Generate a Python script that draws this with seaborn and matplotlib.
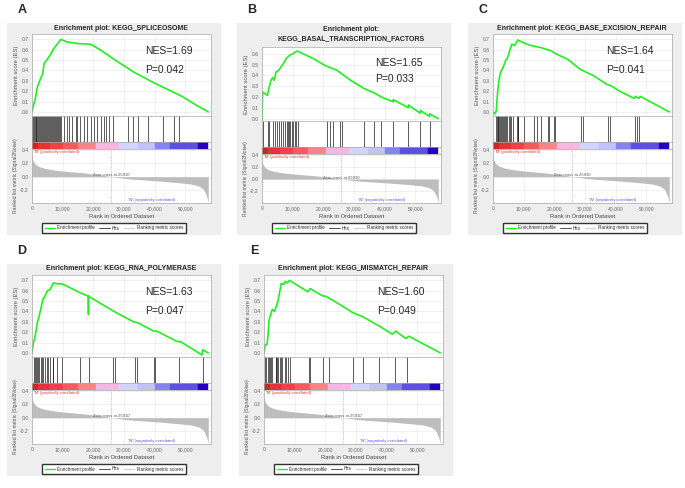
import seaborn as sns
import pandas as pd
from matplotlib import pyplot as plt
from matplotlib.lines import Line2D

sns.set_style("white")
plt.rcParams["font.family"] = ["Liberation Sans", "DejaVu Sans"]

W, H = 685, 488
N_GENES = 57500
ZERO_CROSS = 25910
X_TICKS = [0, 10000, 20000, 30000, 40000, 50000]
X_TICK_LABELS = ["0", "10,000", "20,000", "30,000", "40,000", "50,000"]

# ranked list metric, same ordered dataset in every panel
metric_rank = [0, 300, 1000, 2000, 4000, 7000, 11000, 16000, 21000, 25910,
               31000, 37000, 43000, 48000, 52000, 54500, 56000, 56900, 57500]
metric_value = [0.32, 0.24, 0.19, 0.155, 0.125, 0.10, 0.08, 0.06, 0.035, 0.0,
                -0.03, -0.05, -0.07, -0.09, -0.11, -0.14, -0.19, -0.28, -0.38]

# colour strip between hits and metric
strip_edges = [0, 2000, 6000, 10000, 15000, 20800, 28400, 34600, 40000, 45000,
               54300, 57500]
strip_colors = ["#c82828", "#e03438", "#f04048", "#f45a62", "#f8848a", "#f6b8e2",
                "#d4d4f8", "#c2c2f6", "#8484f0", "#5c50e2", "#2400c2"]

# A
a_title = "Enrichment plot: KEGG_SPLICEOSOME"
a_nes, a_p = "1.69", "0.042"
a_es_rank = [0, 440, 1100, 1760, 2640, 3520, 3960, 4850, 5950, 7050, 8370, 9470,
             11450, 14760, 19160, 22470, 27970, 33480, 38990, 44490, 48900, 53300, 57500]
a_es = [0.0, 0.054, 0.134, 0.24, 0.31, 0.37, 0.47, 0.50, 0.55, 0.61, 0.66, 0.70,
        0.675, 0.66, 0.653, 0.595, 0.484, 0.379, 0.293, 0.213, 0.15, 0.07, 0.0]
a_hits = [100, 350, 600, 900, 1150, 1400, 1700, 2000, 2300, 2600, 2900, 3300, 3600,
          3900, 4200, 4600, 5000, 5300, 5600, 5900, 6300, 6600, 7000, 7300, 7600,
          7900, 8200, 8500, 8800, 9100, 9500, 10300, 11450, 12000, 13100, 14200,
          14750, 15800, 16900, 18000, 19150, 20250, 21350, 22450, 23350, 24100,
          25200, 26300, 31300, 33000, 34600, 38000, 42900, 46200, 47900]

# B
b_title = "Enrichment plot:\nKEGG_BASAL_TRANSCRIPTION_FACTORS"
b_nes, b_p = "1.65", "0.033"
b_es_rank = [0, 220, 1770, 2100, 2880, 3440, 4000, 4550, 5430, 6200, 6980, 7870,
             8980, 10090, 11420, 14520, 16740, 20620, 24500, 28940, 33370, 36700,
             38900, 42790, 42800, 47780, 47790, 51660, 51670, 54660, 54670, 57500]
b_es = [0.0, 0.246, 0.215, 0.26, 0.35, 0.38, 0.354, 0.43, 0.446, 0.477, 0.51, 0.554,
        0.585, 0.60, 0.625, 0.585, 0.554, 0.49, 0.446, 0.354, 0.277, 0.237,
        0.2, 0.155, 0.175, 0.10, 0.125, 0.05, 0.075, 0.02, 0.045, 0.0]
b_hits = [330, 2000, 2330, 3440, 4320, 4880, 5430, 6210, 6760, 7540, 8090, 8430,
          8760, 9200, 9650, 10090, 10750, 11200, 11860, 21180, 22280, 23060, 25610,
          26050, 33370, 36700, 38690, 42790, 47780, 51660, 54660]

# C
c_title = "Enrichment plot: KEGG_BASE_EXCISION_REPAIR"
c_nes, c_p = "1.64", "0.041"
c_es_rank = [0, 640, 1060, 1490, 1900, 2450, 2980, 3500, 4040, 4790, 5430, 6170,
             7020, 8090, 10430, 12550, 15740, 18940, 20530, 24260, 28510, 32770,
             37020, 38620, 41280, 46060, 46500, 47660, 48000, 57500]
c_es = [0.0, -0.02, 0.01, 0.187, 0.30, 0.38, 0.41, 0.445, 0.49, 0.526, 0.59, 0.655,
        0.64, 0.694, 0.66, 0.64, 0.62, 0.59, 0.56, 0.51, 0.41, 0.35,
        0.268, 0.25, 0.20, 0.13, 0.15, 0.13, 0.15, 0.0]
c_hits = [850, 1170, 1490, 1700, 2020, 2340, 2660, 2980, 3300, 3720, 4040, 4360,
          4680, 5110, 5430, 5850, 6380, 7770, 8090, 8300, 10110, 13300, 14360,
          15740, 17870, 18190, 19790, 20210, 28830, 29260, 37550, 38300, 46490,
          46910, 47660]

# D
d_title = "Enrichment plot: KEGG_RNA_POLYMERASE"
d_nes, d_p = "1.63", "0.047"
d_es_rank = [0, 440, 870, 1310, 1740, 2290, 2830, 3490, 4250, 5010, 5880, 6970,
             8280, 9700, 11330, 15690, 18410, 18420, 18440, 22220, 27670, 33110,
             34750, 39650, 40740, 47280, 48370, 55450, 55660, 57500]
d_es = [0.0, 0.094, 0.14, 0.21, 0.29, 0.35, 0.42, 0.51, 0.55, 0.60, 0.61, 0.676,
        0.667, 0.667, 0.645, 0.58, 0.547, 0.37, 0.547, 0.48, 0.385, 0.30,
        0.288, 0.21, 0.21, 0.11, 0.11, -0.02, 0.03, 0.0]
d_hits = [760, 1090, 1420, 1740, 2070, 2400, 2830, 3160, 3490, 4250, 4790, 5340,
          5880, 6750, 6970, 8280, 9690, 15690, 18740, 26580, 27120, 33660, 34200,
          39650, 40200, 48040, 55660]

# E
e_title = "Enrichment plot: KEGG_MISMATCH_REPAIR"
e_nes, e_p = "1.60", "0.049"
e_es_rank = [0, 430, 970, 1300, 1620, 2060, 2700, 3460, 4000, 4550, 5090, 5630,
             6390, 6930, 7580, 8330, 14290, 15040, 19160, 20240, 24570, 28900,
             32140, 37550, 41880, 42970, 46210, 47290, 57500]
e_es = [0.0, 0.08, 0.08, 0.16, 0.31, 0.36, 0.42, 0.40, 0.45, 0.50, 0.585, 0.67,
        0.66, 0.69, 0.675, 0.70, 0.59, 0.62, 0.55, 0.546, 0.47, 0.39,
        0.35, 0.26, 0.18, 0.21, 0.14, 0.16, 0.0]
e_hits = [220, 760, 1300, 1620, 1950, 2380, 2710, 3790, 4000, 4330, 4650, 5090,
          5410, 5840, 6710, 7250, 7790, 8330, 14610, 15040, 19370, 21100, 28900,
          32140, 37550, 42640, 46750]

panels = [
    ("A", 7, 23, a_title, a_nes, a_p, a_es_rank, a_es, a_hits),
    ("B", 237, 23, b_title, b_nes, b_p, b_es_rank, b_es, b_hits),
    ("C", 468, 23, c_title, c_nes, c_p, c_es_rank, c_es, c_hits),
    ("D", 7, 264, d_title, d_nes, d_p, d_es_rank, d_es, d_hits),
    ("E", 239, 264, e_title, e_nes, e_p, e_es_rank, e_es, e_hits),
]

fig = plt.figure(figsize=(W / 100, H / 100), dpi=100)


def rect(left, top, width, height):
    return [left / W, 1 - (top + height) / H, width / W, height / H]


def style_axes(ax):
    for s in ax.spines.values():
        s.set_color("#a8a8a8")
        s.set_linewidth(0.5)
    ax.tick_params(labelsize=3.6, colors="#666666", length=1.5, width=0.4, pad=1)


def draw_panel(letter, x0, y0, title, nes, pval, es_rank, es, hits):
    two_lines = "\n" in title
    bg = fig.add_axes(rect(x0, y0, 214, 212))
    bg.set_facecolor("#eeeeee")
    bg.set_xticks([])
    bg.set_yticks([])
    for s in bg.spines.values():
        s.set_visible(False)

    fig.text((x0 + 15) / W, 1 - (y0 - 13) / H, letter, fontsize=9,
             fontweight="bold", ha="center", va="center")
    fig.text((x0 + 114) / W, 1 - (y0 + (11 if two_lines else 5)) / H, title,
             fontsize=5, fontweight="bold", ha="center", va="center",
             linespacing=1.5)

    es_top = y0 + (24 if two_lines else 11)
    es_bot = y0 + (98 if two_lines else 93)
    strip_top = es_bot + 26
    rank_top = strip_top + 7
    left, width = x0 + 25, 179
    xmax = N_GENES + 900

    # enrichment score
    ax = fig.add_axes(rect(left, es_top, width, es_bot - es_top))
    df = pd.DataFrame({"rank": es_rank, "es": es})
    sns.lineplot(data=df, x="rank", y="es", ax=ax, color="#22ee22", lw=1.2,
                 sort=False, estimator=None)
    ax.set_xlim(0, xmax)
    if letter == "B":
        ax.set_ylim(-0.022, 0.662)
        yt = [0.0, 0.1, 0.2, 0.3, 0.4, 0.5, 0.6]
    else:
        ax.set_ylim(-0.04, 0.752)
        yt = [0.0, 0.1, 0.2, 0.3, 0.4, 0.5, 0.6, 0.7]
    ax.set_yticks(yt)
    ax.set_yticklabels([f"{v:.1f}" for v in yt])
    ax.set_xticks(X_TICKS)
    ax.set_xticklabels([])
    ax.tick_params(axis="x", length=0)
    ax.grid(True, color="#e6e6e6", lw=0.4)
    ax.set_xlabel("")
    ax.set_ylabel("Enrichment score (ES)", fontsize=4.2, color="#555555", labelpad=1.5)
    style_axes(ax)
    ax.text(0.63, 0.79, f"NES={nes}", transform=ax.transAxes, fontsize=7.5,
            va="center", ha="left")
    ax.text(0.63, 0.565, f"P={pval}", transform=ax.transAxes, fontsize=7.5,
            va="center", ha="left")

    # hits
    axh = fig.add_axes(rect(left, es_bot, width, strip_top - es_bot))
    axh.vlines(hits, 0, 1, color="#1a1a1a", lw=0.5)
    axh.set_xlim(0, xmax)
    axh.set_ylim(0, 1)
    axh.set_xticks([])
    axh.set_yticks([])
    style_axes(axh)

    # colour strip
    axs = fig.add_axes(rect(left, strip_top, width, rank_top - strip_top))
    segs = [(a, b - a) for a, b in zip(strip_edges[:-1], strip_edges[1:])]
    axs.broken_barh(segs, (0, 1), facecolors=strip_colors, edgecolors=strip_colors,
                    linewidth=0.3)
    axs.set_xlim(0, xmax)
    axs.set_ylim(0, 1)
    axs.set_xticks([])
    axs.set_yticks([])
    style_axes(axs)

    # ranked list metric
    axr = fig.add_axes(rect(left, rank_top, width, y0 + 180 - rank_top))
    axr.fill_between(metric_rank, metric_value, 0, color="#bdbdbd", lw=0)
    axr.axvline(ZERO_CROSS, color="#999999", lw=0.4, ls=(0, (2, 2)))
    axr.set_xlim(0, xmax)
    axr.set_ylim(-0.39, 0.41)
    axr.set_yticks([0.4, 0.2, 0.0, -0.2])
    axr.set_yticklabels(["0.4", "0.2", "0.0", "-0.2"])
    axr.set_xticks(X_TICKS)
    axr.set_xticklabels(X_TICK_LABELS)
    axr.grid(True, color="#e6e6e6", lw=0.4)
    axr.set_xlabel("Rank in Ordered Dataset", fontsize=4.2, color="#444444", labelpad=1.5)
    axr.set_ylabel("Ranked list metric (Signal2Noise)", fontsize=3.6,
                   color="#555555", labelpad=1.5)
    style_axes(axr)
    axr.text(500, 0.365, "'M' (positively correlated)", fontsize=3, color="#ee3333",
             va="center", ha="left")
    axr.text(ZERO_CROSS, 0.02, f"Zero cross at {ZERO_CROSS}", fontsize=3,
             color="#555555", va="center", ha="center")
    axr.text(39000, -0.34, "'W' (negatively correlated)", fontsize=3, color="#5555ee",
             va="center", ha="center")

    handles = [Line2D([], [], color="#22ee22", lw=1.0),
               Line2D([], [], color="#333333", lw=0.6),
               Line2D([], [], color="#d6d6d6", lw=1.0)]
    labels = ["Enrichment profile", "Hits", "Ranking metric scores"]
    fig.legend(handles, labels, loc="center",
               bbox_to_anchor=((x0 + 107) / W, 1 - (y0 + 205) / H),
               ncol=3, fontsize=3.3, frameon=True, fancybox=False,
               edgecolor="#333333", framealpha=1, borderpad=0.5,
               handlelength=2.2, columnspacing=1.0, handletextpad=0.5)


for p in panels:
    draw_panel(*p)

fig.savefig("out.png", dpi=100)
